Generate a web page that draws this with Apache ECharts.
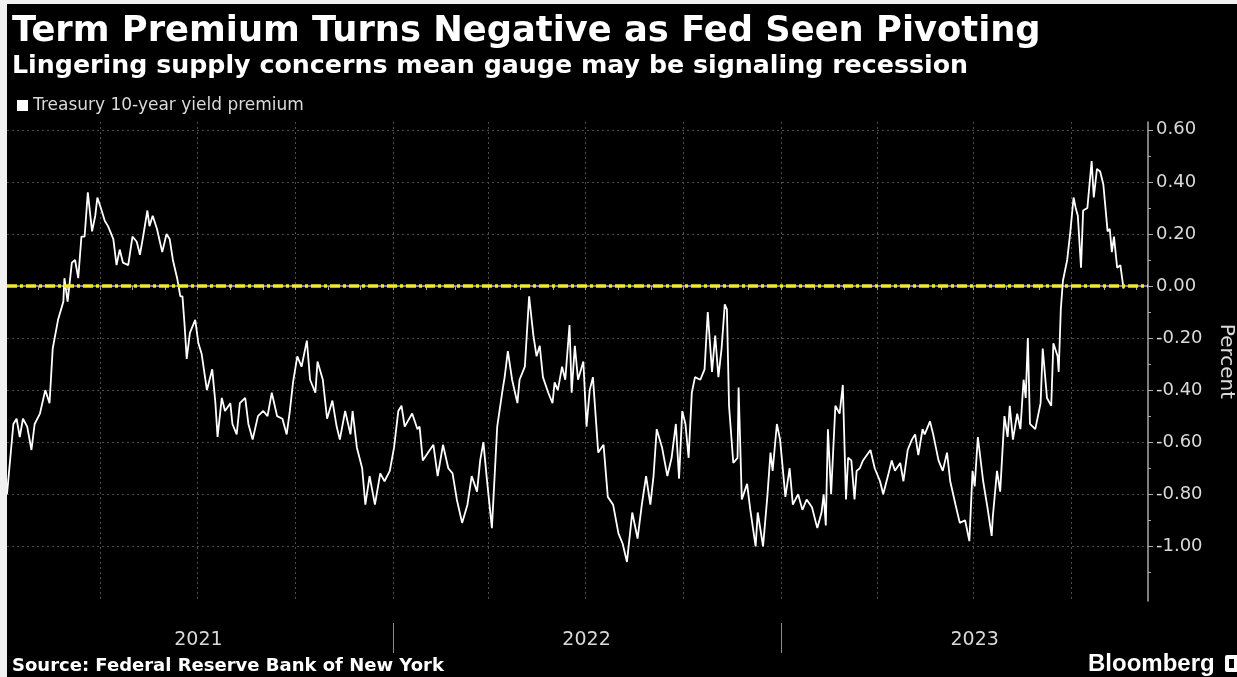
<!DOCTYPE html>
<html>
<head>
<meta charset="utf-8">
<script src="https://cdn.jsdelivr.net/npm/echarts@6/dist/echarts.min.js"></script>
<style>
  html, body { margin: 0; padding: 0; background: #f1f1f1; }
  #chart { width: 1237px; height: 677px; }
</style>
</head>
<body>
<div id="chart"></div>
<script>
// ACM 10-year Treasury term premium, percent
const dates = [
  '2021-01-03','2021-01-09','2021-01-12','2021-01-15','2021-01-18','2021-01-22','2021-01-26','2021-01-29',
  '2021-02-03','2021-02-08','2021-02-12','2021-02-15','2021-02-20','2021-02-25','2021-02-26',
  '2021-03-01','2021-03-05','2021-03-08','2021-03-11','2021-03-14','2021-03-17','2021-03-20','2021-03-24','2021-03-27','2021-03-29',
  '2021-04-02','2021-04-05','2021-04-08','2021-04-13','2021-04-16','2021-04-19','2021-04-22','2021-04-27',
  '2021-05-01','2021-05-05','2021-05-08','2021-05-11','2021-05-15','2021-05-17','2021-05-20','2021-05-24','2021-05-29',
  '2021-06-02','2021-06-05','2021-06-08','2021-06-12','2021-06-15','2021-06-17','2021-06-19','2021-06-21','2021-06-24','2021-06-29',
  '2021-07-02','2021-07-05','2021-07-10','2021-07-15','2021-07-18','2021-07-20','2021-07-24','2021-07-27',
  '2021-08-01','2021-08-03','2021-08-07','2021-08-10','2021-08-15','2021-08-18','2021-08-22','2021-08-27',
  '2021-09-01','2021-09-05','2021-09-09','2021-09-14','2021-09-19','2021-09-23','2021-09-26','2021-09-29',
  '2021-10-03','2021-10-07','2021-10-12','2021-10-15','2021-10-20','2021-10-22','2021-10-27','2021-10-31',
  '2021-11-05','2021-11-09','2021-11-12','2021-11-17','2021-11-22','2021-11-24','2021-11-28',
  '2021-12-03','2021-12-06','2021-12-10','2021-12-15','2021-12-20','2021-12-24','2021-12-29',
  '2022-01-02','2022-01-06','2022-01-09','2022-01-12','2022-01-19','2022-01-24','2022-01-26','2022-01-29',
  '2022-02-03','2022-02-08','2022-02-12','2022-02-17','2022-02-22','2022-02-26',
  '2022-03-02','2022-03-07','2022-03-12','2022-03-16','2022-03-21','2022-03-24','2022-03-27','2022-03-30',
  '2022-04-04','2022-04-09','2022-04-14','2022-04-16','2022-04-19','2022-04-23','2022-04-28','2022-04-30',
  '2022-05-05','2022-05-09','2022-05-13','2022-05-16','2022-05-19','2022-05-22','2022-05-27','2022-05-31',
  '2022-06-02','2022-06-05','2022-06-09','2022-06-12','2022-06-16','2022-06-18','2022-06-21','2022-06-24','2022-06-29',
  '2022-07-02','2022-07-05','2022-07-08','2022-07-13','2022-07-18','2022-07-22','2022-07-27',
  '2022-08-01','2022-08-05','2022-08-09','2022-08-14','2022-08-19','2022-08-23','2022-08-27','2022-08-31',
  '2022-09-03','2022-09-06','2022-09-11','2022-09-16','2022-09-20','2022-09-24','2022-09-27','2022-09-30',
  '2022-10-03','2022-10-06','2022-10-09','2022-10-12','2022-10-17','2022-10-21','2022-10-24','2022-10-28','2022-10-31',
  '2022-11-03','2022-11-06','2022-11-09','2022-11-11','2022-11-13','2022-11-17','2022-11-21','2022-11-22','2022-11-25','2022-11-30',
  '2022-12-03','2022-12-08','2022-12-10','2022-12-15','2022-12-19','2022-12-22','2022-12-24','2022-12-28','2022-12-31',
  '2023-01-05','2023-01-09','2023-01-12','2023-01-17','2023-01-21','2023-01-25','2023-01-30',
  '2023-02-04','2023-02-08','2023-02-10','2023-02-12','2023-02-14','2023-02-17','2023-02-21','2023-02-25','2023-02-28',
  '2023-03-03','2023-03-05','2023-03-08','2023-03-11','2023-03-13','2023-03-16','2023-03-19','2023-03-26','2023-03-30',
  '2023-04-04','2023-04-07','2023-04-12','2023-04-15','2023-04-18','2023-04-23','2023-04-26','2023-04-30',
  '2023-05-04','2023-05-07','2023-05-10','2023-05-14','2023-05-16','2023-05-21','2023-05-24','2023-05-29',
  '2023-06-02','2023-06-06','2023-06-09','2023-06-14','2023-06-18','2023-06-23','2023-06-27','2023-06-30',
  '2023-07-02','2023-07-05','2023-07-10','2023-07-14','2023-07-18','2023-07-19','2023-07-23','2023-07-26','2023-07-30',
  '2023-08-02','2023-08-04','2023-08-07','2023-08-11','2023-08-14','2023-08-17','2023-08-19','2023-08-21','2023-08-23','2023-08-28',
  '2023-09-02','2023-09-04','2023-09-08','2023-09-12','2023-09-14','2023-09-18','2023-09-19','2023-09-21','2023-09-23','2023-09-27','2023-09-30',
  '2023-10-03','2023-10-05','2023-10-07','2023-10-10','2023-10-12','2023-10-16','2023-10-20','2023-10-22','2023-10-25','2023-10-28','2023-10-31',
  '2023-11-04','2023-11-06','2023-11-08','2023-11-10','2023-11-13','2023-11-16','2023-11-19'
];

const premium = [
  -0.80,-0.53,-0.51,-0.58,-0.51,-0.54,-0.63,-0.53,
  -0.49,-0.40,-0.45,-0.24,-0.13,-0.06,0.03,
  -0.06,0.09,0.10,0.03,0.19,0.19,0.36,0.21,0.27,0.34,
  0.29,0.25,0.23,0.18,0.08,0.14,0.09,0.08,
  0.19,0.17,0.12,0.19,0.29,0.23,0.27,0.22,0.13,
  0.20,0.18,0.10,0.03,-0.04,-0.04,-0.15,-0.28,-0.18,-0.13,
  -0.22,-0.26,-0.40,-0.32,-0.45,-0.58,-0.43,-0.48,
  -0.45,-0.53,-0.57,-0.45,-0.43,-0.53,-0.59,-0.50,
  -0.48,-0.50,-0.41,-0.50,-0.51,-0.57,-0.48,-0.37,
  -0.27,-0.31,-0.21,-0.36,-0.41,-0.29,-0.36,-0.51,
  -0.44,-0.54,-0.59,-0.48,-0.57,-0.48,-0.62,
  -0.70,-0.84,-0.73,-0.84,-0.72,-0.75,-0.71,
  -0.62,-0.48,-0.46,-0.54,-0.49,-0.55,-0.54,-0.67,
  -0.64,-0.61,-0.73,-0.61,-0.70,-0.72,
  -0.82,-0.91,-0.84,-0.73,-0.79,-0.67,-0.60,-0.73,
  -0.93,-0.54,-0.40,-0.35,-0.25,-0.36,-0.45,-0.36,
  -0.31,-0.04,-0.19,-0.27,-0.23,-0.35,-0.41,-0.45,
  -0.37,-0.40,-0.31,-0.36,-0.15,-0.41,-0.23,-0.36,-0.29,
  -0.54,-0.40,-0.35,-0.64,-0.61,-0.81,-0.84,
  -0.95,-0.99,-1.06,-0.87,-0.97,-0.84,-0.73,-0.84,
  -0.73,-0.55,-0.62,-0.73,-0.66,-0.53,-0.74,-0.48,
  -0.53,-0.66,-0.41,-0.35,-0.36,-0.32,-0.10,-0.33,-0.19,
  -0.35,-0.24,-0.07,-0.09,-0.46,-0.68,-0.66,-0.39,-0.82,-0.76,
  -0.86,-1.00,-0.87,-1.00,-0.81,-0.64,-0.71,-0.53,-0.59,
  -0.81,-0.70,-0.84,-0.80,-0.86,-0.82,-0.85,
  -0.93,-0.87,-0.80,-0.92,-0.55,-0.80,-0.46,-0.49,-0.38,
  -0.82,-0.66,-0.67,-0.82,-0.71,-0.70,-0.67,-0.63,-0.70,
  -0.75,-0.80,-0.72,-0.67,-0.71,-0.68,-0.75,-0.63,
  -0.59,-0.57,-0.65,-0.55,-0.57,-0.52,-0.57,-0.67,
  -0.71,-0.64,-0.75,-0.84,-0.91,-0.90,-0.98,-0.71,
  -0.77,-0.58,-0.75,-0.85,-0.96,-0.89,-0.71,-0.79,-0.50,
  -0.58,-0.46,-0.59,-0.49,-0.55,-0.36,-0.43,-0.20,-0.53,-0.55,
  -0.45,-0.24,-0.43,-0.46,-0.22,-0.27,-0.33,-0.09,0.02,0.10,0.21,
  0.34,0.30,0.27,0.07,0.29,0.30,0.48,0.34,0.45,0.44,0.39,
  0.21,0.22,0.13,0.19,0.07,0.08,-0.01
];

const seriesName = 'Treasury 10-year yield premium';
const yearLabels = ['2021', '2022', '2023'];
const yMajorTicks = [-1.0, -0.8, -0.6, -0.4, -0.2, 0.0, 0.2, 0.4, 0.6];
const yMinorTicks = [-1.1, -0.9, -0.7, -0.5, -0.3, -0.1, 0.1, 0.3, 0.5];

// dates become local-time millisecond stamps on a numeric x axis
const ts = (y, m, d) => new Date(y, m, d).getTime();
const parseDay = s => { const p = s.split('-').map(Number); return ts(p[0], p[1] - 1, p[2]); };
const xMin = ts(2021, 0, 3);
const xMax = ts(2023, 11, 12);

// month starts for the small ticks, quarter starts for the vertical grid
const monthTicks = [];
const quarterTicks = [];
for (let y = 2021; y <= 2023; y++) {
  for (let m = 0; m < 12; m++) {
    const t = ts(y, m, 1);
    if (t > xMin && t < xMax) {
      monthTicks.push(t);
      if (m % 3 === 0) quarterTicks.push(t);
    }
  }
}
const yearStarts = [ts(2022, 0, 1), ts(2023, 0, 1)];
const yearMids = yearLabels.map(y => ts(+y, 6, 2));

const FONT = '"DejaVu Sans", Verdana, sans-serif';
const AXIS = '#a8a8a8';
const TEXT = '#d9d9d9';
const GRID = '#4c4c4c';

const chart = echarts.init(document.getElementById('chart'), null, { renderer: 'canvas' });

const xBase = { type: 'value', min: xMin, max: xMax, position: 'bottom', scale: true };

chart.setOption({
  backgroundColor: '#000000',
  animation: false,
  textStyle: { fontFamily: FONT },
  grid: { left: 7, right: 89, top: 122, bottom: 76, containLabel: false, outerBoundsMode: 'none' },
  legend: {
    data: [seriesName],
    left: 17, top: 97, padding: 0,
    icon: 'rect', itemWidth: 11, itemHeight: 11,
    textStyle: { color: TEXT, fontSize: 17, fontFamily: FONT },
    selectedMode: false
  },
  xAxis: [
    Object.assign({}, xBase, {
      axisLine: { show: true, lineStyle: { color: AXIS, width: 1.5 } },
      axisTick: { show: true, customValues: monthTicks, length: 4, lineStyle: { color: AXIS } },
      axisLabel: { show: false },
      splitLine: { show: false }
    }),
    Object.assign({}, xBase, {
      axisLine: { show: false },
      axisTick: { show: false, customValues: quarterTicks },
      axisLabel: { show: false },
      splitLine: { show: true, lineStyle: { color: GRID, type: [2, 3], width: 1 } }
    }),
    Object.assign({}, xBase, {
      offset: 22,
      axisLine: { show: false },
      axisTick: { show: true, customValues: yearStarts, length: 30, lineStyle: { color: '#8c8c8c' } },
      axisLabel: {
        show: true, customValues: yearMids, margin: 8,
        color: TEXT, fontSize: 19, fontFamily: FONT,
        formatter: v => String(new Date(v).getFullYear())
      },
      splitLine: { show: false }
    })
  ],
  yAxis: [
    {
      type: 'value', position: 'right', min: -1.21, max: 0.63,
      name: 'Percent', nameLocation: 'middle', nameRotate: -90, nameGap: 68,
      nameTextStyle: { color: TEXT, fontSize: 20, fontFamily: FONT },
      axisLine: { show: true, lineStyle: { color: AXIS, width: 1.5 } },
      axisTick: { show: true, inside: false, customValues: yMajorTicks, length: 5, lineStyle: { color: AXIS } },
      axisLabel: {
        show: true, customValues: yMajorTicks, margin: 8,
        color: TEXT, fontSize: 18, fontFamily: FONT,
        formatter: v => v.toFixed(2)
      },
      splitLine: { show: true, lineStyle: { color: GRID, type: [2, 3], width: 1 } }
    },
    {
      type: 'value', position: 'right', min: -1.21, max: 0.63,
      axisLine: { show: false },
      axisTick: { show: true, inside: false, customValues: yMinorTicks, length: 3, lineStyle: { color: AXIS } },
      axisLabel: { show: false },
      splitLine: { show: false }
    }
  ],
  series: [
    {
      name: seriesName,
      type: 'line',
      xAxisIndex: 0, yAxisIndex: 0,
      data: dates.map((d, i) => [parseDay(d), premium[i]]),
      showSymbol: false,
      color: '#ffffff',
      lineStyle: { color: '#ffffff', width: 1.8 },
      markLine: {
        silent: true, symbol: 'none',
        label: { show: false },
        lineStyle: { color: '#f2e832', type: [10, 3, 3, 3], width: 3.5, opacity: 1 },
        emphasis: { disabled: true },
        data: [{ yAxis: 0 }]
      }
    }
  ],
  graphic: [
    { type: 'rect', left: 0, top: 0, shape: { width: 7, height: 677 }, style: { fill: '#f1f1f1' }, z: 10 },
    { type: 'rect', left: 0, top: 0, shape: { width: 1237, height: 4 }, style: { fill: '#f1f1f1' }, z: 10 },
    {
      type: 'text', x: 12, y: 32,
      style: { text: 'Term Premium Turns Negative as Fed Seen Pivoting', fill: '#ffffff',
               font: 'bold 35.3px ' + FONT, verticalAlign: 'middle', align: 'left' }
    },
    {
      type: 'text', x: 12, y: 66,
      style: { text: 'Lingering supply concerns mean gauge may be signaling recession', fill: '#ffffff',
               font: 'bold 25.3px ' + FONT, verticalAlign: 'middle', align: 'left' }
    },
    {
      type: 'text', x: 12, y: 666,
      style: { text: 'Source: Federal Reserve Bank of New York', fill: '#ffffff',
               font: 'bold 18px ' + FONT, verticalAlign: 'middle', align: 'left' }
    },
    {
      type: 'text', x: 1088, y: 664,
      style: { text: 'Bloomberg', fill: '#ffffff',
               font: 'bold 24px "Liberation Sans", Arial, sans-serif', verticalAlign: 'middle', align: 'left' }
    },
    { type: 'rect', left: 1225, top: 655, shape: { width: 14, height: 17, r: 2 }, style: { fill: '#ffffff' } },
    { type: 'rect', left: 1229, top: 659, shape: { width: 5, height: 9 }, style: { fill: '#000000' } }
  ]
});
</script>
</body>
</html>
